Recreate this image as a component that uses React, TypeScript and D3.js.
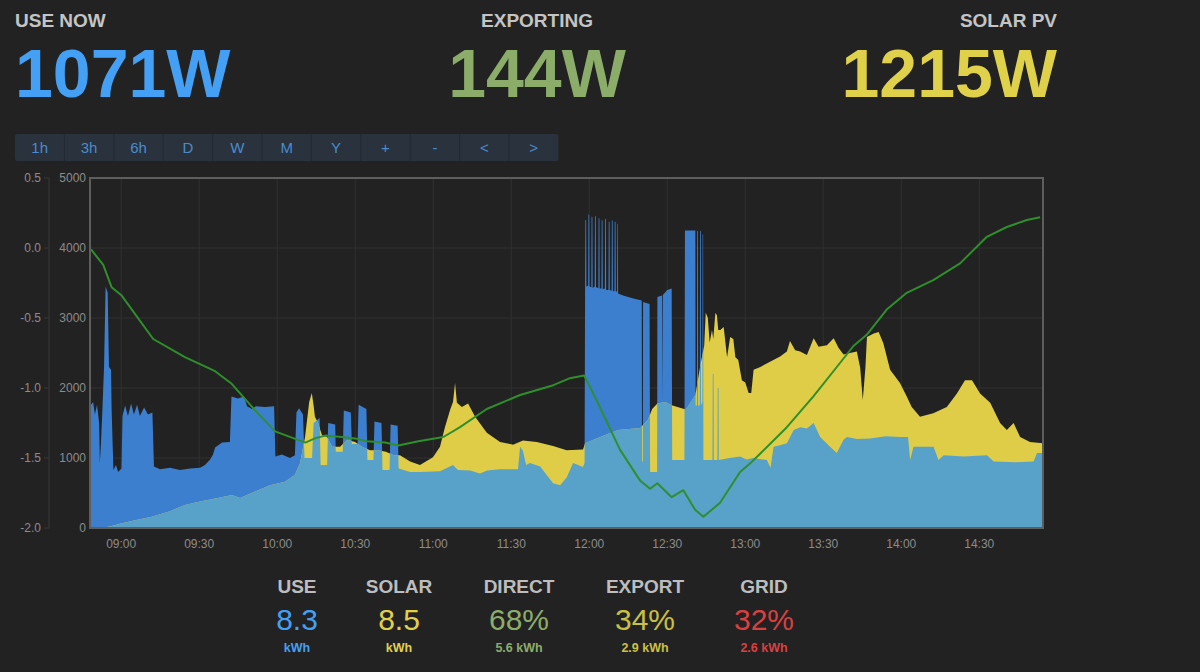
import * as d3 from 'd3';

// time in minutes since midnight, power in W
const useSeries: [number, number][] = [
  [528.2, 1750], [529.2, 1800], [529.9, 1620], [530.7, 1760], [531.5, 1500], [531.8, 930], [532.2, 1200],
  [532.8, 1720], [533.4, 2300], [534.0, 3450], [534.8, 3360], [535.3, 2300], [536.1, 2260], [536.3, 1720],
  [537.0, 830], [538.0, 900], [538.8, 800], [540.1, 850], [540.5, 1600], [541.5, 1750], [542.6, 1600],
  [543.8, 1780], [544.9, 1620], [546.1, 1760], [547.2, 1600], [548.8, 1720], [550.3, 1620], [552.0, 1650],
  [552.6, 880], [554.9, 840], [558.8, 860], [562.6, 830], [566.5, 850], [570.3, 860], [572.2, 900],
  [574.2, 980], [575.3, 1050], [576.1, 1150], [578.8, 1220], [581.8, 1230], [582.4, 1880], [584.9, 1850],
  [587.2, 1880], [588.4, 1740], [590.3, 1700], [591.8, 1740], [595.3, 1730], [598.8, 1740], [599.3, 1020],
  [601.8, 1050], [604.9, 1000], [606.8, 1040], [607.4, 1650], [608.4, 1710], [609.9, 1620], [610.5, 1000],
  [613.4, 1000], [614.0, 1500], [616.3, 1570], [616.7, 900], [619.2, 900], [619.6, 1500], [622.3, 1480],
  [622.5, 1090], [625.2, 1090], [625.6, 1680], [628.3, 1650], [628.7, 1200], [630.9, 1200], [631.3, 1760],
  [634.3, 1700], [634.7, 970], [637.0, 970], [637.4, 1520], [640.1, 1500], [640.5, 830], [643.2, 830],
  [643.6, 1480], [646.3, 1460], [646.7, 850], [651.1, 800], [654.9, 800], [662.6, 810], [667.6, 900],
  [669.5, 830], [674.2, 820], [678.0, 780], [680.7, 820], [685.7, 840], [692.6, 840], [693.4, 1160],
  [694.5, 1100], [695.7, 900], [697.2, 930], [701.1, 880], [706.1, 640], [708.8, 610], [711.3, 720],
  [713.8, 930], [717.6, 870], [718.2, 930],
  // 12:00 block with short surges
  [718.4, 3450], [718.5, 4400], [718.8, 4400], [718.9, 3450], [719.6, 3460], [719.7, 4480], [720.0, 4470],
  [720.1, 3450], [720.8, 3440], [720.9, 4450], [721.2, 4440], [721.3, 3430], [722.1, 3450], [722.2, 4460],
  [722.5, 4450], [722.6, 3440], [723.5, 3430], [723.6, 4430], [723.9, 4420], [724.0, 3420], [724.7, 3420],
  [724.8, 4400], [725.1, 4390], [725.2, 3410], [726.0, 3420], [726.1, 4420], [726.4, 4410], [726.5, 3400],
  [727.4, 3400], [727.5, 4380], [727.8, 4370], [727.9, 3400], [728.6, 3390], [728.7, 4400], [729.0, 4390],
  [729.1, 3380], [729.7, 3390], [729.8, 4380], [730.1, 4370], [730.2, 3380], [730.7, 3380], [730.8, 4350],
  [731.0, 4340], [731.1, 3350],
  [733.0, 3320], [735.0, 3300], [737.0, 3280], [740.2, 3250], [740.3, 950], [740.6, 950], [740.7, 3230],
  [743.2, 3200], [743.4, 800], [746.1, 800], [746.2, 3300], [748.0, 3320], [748.1, 1800], [748.3, 3330],
  [750.0, 3400], [751.7, 3420], [751.9, 970], [756.6, 970], [756.8, 4250], [760.8, 4250], [760.9, 1750],
  [761.4, 1750], [761.5, 4250], [761.8, 4240], [761.9, 1750], [762.5, 1750], [762.6, 4250], [762.9, 4240],
  [763.0, 1750], [763.5, 1800], [763.6, 4200], [763.8, 4190], [763.9, 970],
  [767.4, 970], [767.5, 2200], [767.8, 2200], [767.9, 970], [769.3, 970], [769.4, 2000], [769.7, 2000],
  [769.8, 970], [774.0, 1000], [778.0, 1020], [780.5, 980], [783.0, 1000], [788.3, 970], [789.7, 860],
  [790.9, 1160], [793.0, 1180], [796.0, 1210], [798.6, 1400], [801.2, 1440], [803.7, 1420], [806.3, 1500],
  [808.8, 1300], [812.6, 1160], [815.2, 1070], [817.8, 1260], [819.1, 1300], [823.0, 1270], [828.0, 1280],
  [834.0, 1310], [839.5, 1300], [842.6, 1300], [843.4, 970], [844.7, 1160], [852.4, 1160], [854.3, 970],
  [856.3, 1040], [864.0, 1020], [873.0, 1040], [875.5, 950], [884.0, 940], [890.9, 950], [892.2, 1070],
  [894.4, 1070],
];

const solarSeries: [number, number][] = [
  [531.8, 0], [535.7, 20], [539.5, 60], [545.3, 110], [551.8, 160], [558.8, 240], [564.5, 330], [570.3, 380],
  [577.2, 430], [582.6, 470], [585.7, 430], [591.5, 520], [597.2, 610], [603.0, 660], [606.8, 760],
  [608.8, 930], [610.7, 1300], [611.5, 1550], [612.3, 1800], [613.3, 1930], [614.0, 1750], [614.5, 1590],
  [615.7, 1500], [617.2, 1330], [619.2, 1300], [621.1, 1160], [624.2, 1160], [626.9, 1260], [629.9, 1230],
  [632.6, 1160], [635.7, 1110], [638.8, 1110], [641.8, 1090], [644.9, 1040], [647.2, 1040], [651.1, 950],
  [654.9, 900], [659.9, 1010], [662.6, 1160], [664.5, 1440], [666.5, 1690], [667.6, 1800], [668.4, 2070],
  [669.1, 1790], [671.0, 1730], [673.4, 1780], [676.1, 1590], [680.6, 1360], [685.7, 1230], [690.7, 1190],
  [694.5, 1250], [699.8, 1230], [706.1, 1170], [711.3, 1110], [717.6, 1120], [718.4, 1210], [724.2, 1300],
  [731.1, 1400], [739.6, 1430], [742.6, 1550], [744.2, 1700], [746.2, 1780], [749.2, 1800], [752.0, 1750],
  [756.5, 1700], [757.3, 1700], [760.8, 1900], [763.1, 2400], [764.2, 2600], [764.8, 3080], [765.6, 3000],
  [766.3, 2650], [767.2, 2830], [767.7, 2700], [768.5, 3070], [769.1, 3040], [769.6, 2830], [770.4, 2830],
  [771.7, 2870], [773.0, 2440], [774.2, 2730], [775.4, 2700], [776.2, 2440], [777.3, 2400], [778.7, 2110],
  [780.0, 2080], [781.3, 1930], [782.3, 1930], [783.2, 2260], [785.8, 2300], [789.7, 2380], [793.4, 2450],
  [796.0, 2520], [797.2, 2670], [799.2, 2540], [801.1, 2520], [803.7, 2470], [806.3, 2710], [808.2, 2590],
  [811.4, 2610], [814.0, 2710], [815.9, 2570], [817.8, 2480], [820.3, 2500], [822.9, 2520], [824.2, 2290],
  [825.2, 1830], [826.2, 2290], [826.8, 2730], [829.4, 2780], [831.3, 2800], [833.1, 2640], [835.7, 2260],
  [839.5, 2070], [842.1, 1880], [844.0, 1730], [847.2, 1590], [852.3, 1640], [857.5, 1730], [861.4, 1920],
  [864.5, 2110], [867.2, 2110], [870.3, 1920], [874.2, 1790], [878.0, 1500], [880.6, 1400], [883.2, 1500],
  [885.7, 1300], [889.5, 1230], [894.4, 1210],
];

// green line, left axis
const balanceSeries: [number, number][] = [
  [528.4, -0.01], [533.1, -0.12], [536.3, -0.28], [540.2, -0.34], [552.3, -0.65], [564.5, -0.78],
  [576.1, -0.88], [582.5, -0.97], [591.5, -1.16], [599.2, -1.31], [610.8, -1.39], [614.5, -1.36],
  [618.4, -1.34], [624.8, -1.35], [629.9, -1.36], [634.4, -1.38], [641.5, -1.39], [646.6, -1.41],
  [654.3, -1.38], [663.9, -1.35], [670.3, -1.28], [680.6, -1.15], [693.4, -1.05], [706.2, -0.98],
  [712.6, -0.93], [718.0, -0.91], [722.9, -1.09], [731.8, -1.44], [739.5, -1.66], [743.4, -1.72],
  [746.2, -1.68], [751.7, -1.78], [756.2, -1.73], [760.7, -1.87], [763.9, -1.92], [767.7, -1.86],
  [770.3, -1.82], [778.0, -1.60], [781.8, -1.54], [785.7, -1.47], [796.0, -1.28], [806.2, -1.06],
  [815.2, -0.85], [821.6, -0.70], [826.7, -0.62], [834.4, -0.44], [842.1, -0.32], [852.3, -0.23],
  [862.6, -0.11], [872.9, 0.08], [880.6, 0.15], [888.3, 0.20], [893.4, 0.22],
];

const leftTicks = [0.5, 0.0, -0.5, -1.0, -1.5, -2.0];
const powerTicks = [5000, 4000, 3000, 2000, 1000, 0];
const timeTicks = [540, 570, 600, 630, 660, 690, 720, 750, 780, 810, 840, 870];
const buttons = ['1h', '3h', '6h', 'D', 'W', 'M', 'Y', '+', '-', '<', '>'];

const headline = [
  { label: 'USE NOW', value: '1071W', color: '#44a0f4', x: 15, anchor: 'start' },
  { label: 'EXPORTING', value: '144W', color: '#8cad6a', x: 537, anchor: 'middle' },
  { label: 'SOLAR PV', value: '1215W', color: '#e0d14a', x: 1057, anchor: 'end' },
];

const stats = [
  { label: 'USE', value: '8.3', unit: 'kWh', color: '#44a0f4', x: 297 },
  { label: 'SOLAR', value: '8.5', unit: 'kWh', color: '#e0d14a', x: 399 },
  { label: 'DIRECT', value: '68%', unit: '5.6 kWh', color: '#8cad6a', x: 519 },
  { label: 'EXPORT', value: '34%', unit: '2.9 kWh', color: '#c9c044', x: 645 },
  { label: 'GRID', value: '32%', unit: '2.6 kWh', color: '#d94040', x: 764 },
];

const FONT = '"Liberation Sans", Arial, Helvetica, sans-serif';

export default function App() {
  const W = 1200, H = 672;
  const left = 90, right = 1043, top = 178, bottom = 528;

  const x = d3.scaleLinear().domain([528, 894.5]).range([left, right]);
  const yPow = d3.scaleLinear().domain([0, 5000]).range([bottom, top]);
  const yLeft = d3.scaleLinear().domain([-2, 0.5]).range([bottom, top]);

  const area = d3.area<[number, number]>()
    .x(d => x(d[0]))
    .y0(yPow(0))
    .y1(d => yPow(d[1]));
  const line = d3.line<[number, number]>()
    .x(d => x(d[0]))
    .y(d => yLeft(d[1]));

  const useD = area(useSeries) || '';
  const solarD = area(solarSeries) || '';
  const fmtTime = (m: number) => `${String(Math.floor(m / 60)).padStart(2, '0')}:${String(m % 60).padStart(2, '0')}`;

  const btnX = 15, btnW = 49.4;

  return (
    <div style={{ position: 'absolute', left: 0, top: 0 }}>
      <svg width={W} height={H} style={{ display: 'block', fontFamily: FONT }}>
        <rect width={W} height={H} fill="#222222" />

        {headline.map(h => (
          <g key={h.label}>
            <text x={h.x} y={27} textAnchor={h.anchor} fill="#c4c4c4" fontSize={19} fontWeight="bold">{h.label}</text>
            <text x={h.x} y={97} textAnchor={h.anchor} fill={h.color} fontSize={68} fontWeight="bold">{h.value}</text>
          </g>
        ))}

        {/* range buttons */}
        <rect x={btnX} y={134} width={btnW * buttons.length} height={27} rx={2} fill="#29323d" />
        {buttons.map((b, i) => (
          <g key={b + i}>
            {i > 0 && <line x1={btnX + i * btnW} x2={btnX + i * btnW} y1={134} y2={161} stroke="#222a33" strokeWidth={1} />}
            <text x={btnX + i * btnW + btnW / 2} y={153} textAnchor="middle" fill="#4a8ccd" fontSize={15}>{b}</text>
          </g>
        ))}

        <defs>
          <clipPath id="plotClip">
            <rect x={left} y={top} width={right - left} height={bottom - top} />
          </clipPath>
          <clipPath id="useClip">
            <path d={useD} />
          </clipPath>
        </defs>

        {/* grid */}
        {timeTicks.map(t => (
          <line key={t} x1={x(t)} x2={x(t)} y1={top} y2={bottom} stroke="#303030" />
        ))}
        {powerTicks.slice(1, -1).map(p => (
          <line key={p} x1={left} x2={right} y1={yPow(p)} y2={yPow(p)} stroke="#303030" />
        ))}

        <g clipPath="url(#plotClip)">
          <path d={useD} fill="#3c7fce" />
          <path d={solarD} fill="#dfcd48" />
          <path d={solarD} fill="#58a1c9" clipPath="url(#useClip)" />
          <path d={line(balanceSeries) || ''} fill="none" stroke="#2f8f2c" strokeWidth={2} strokeLinejoin="round" />
        </g>

        <rect x={left} y={top} width={right - left} height={bottom - top} fill="none" stroke="#5e5e5e" strokeWidth={2} />

        {/* left axis */}
        <line x1={49} x2={49} y1={top} y2={bottom} stroke="#383838" />
        {leftTicks.map(v => (
          <g key={v}>
            <line x1={44} x2={49} y1={yLeft(v)} y2={yLeft(v)} stroke="#383838" />
            <text x={41} y={yLeft(v) + 4} textAnchor="end" fill="#8c8c8c" fontSize={12}>{v.toFixed(1)}</text>
          </g>
        ))}
        {powerTicks.map(p => (
          <text key={p} x={86} y={yPow(p) + 4} textAnchor="end" fill="#8c8c8c" fontSize={12}>{p}</text>
        ))}
        {timeTicks.map(t => (
          <text key={t} x={x(t)} y={548} textAnchor="middle" fill="#8c8c8c" fontSize={12}>{fmtTime(t)}</text>
        ))}

        {/* summary */}
        {stats.map(s => (
          <g key={s.label} textAnchor="middle">
            <text x={s.x} y={593} fill="#bdbdbd" fontSize={19} fontWeight="bold">{s.label}</text>
            <text x={s.x} y={630} fill={s.color} fontSize={30}>{s.value}</text>
            <text x={s.x} y={652} fill={s.color} fontSize={12.5} fontWeight="bold">{s.unit}</text>
          </g>
        ))}
      </svg>
    </div>
  );
}
